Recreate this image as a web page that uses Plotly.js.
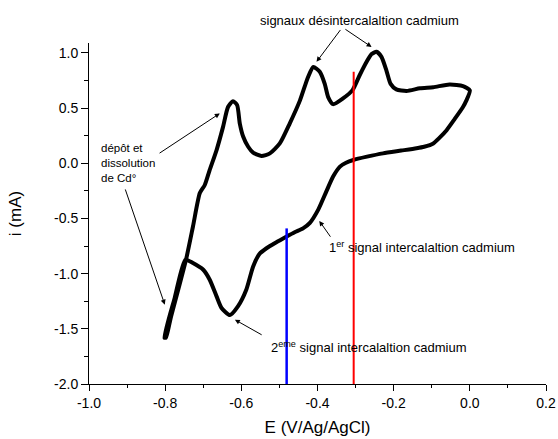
<!DOCTYPE html>
<html>
<head>
<meta charset="utf-8">
<script src="https://cdn.plot.ly/plotly-3.0.1.min.js"></script>
<style>html,body{margin:0;padding:0;background:#fff;}#chart{width:558px;height:439px;}</style>
</head>
<body>
<div id="chart"></div>
<script>
// Cyclic voltammogram: cathodic scan (0.0 V -> -0.8 V)
const cathodicE = [0.0, -0.009, -0.018, -0.04, -0.061, -0.08, -0.096, -0.12, -0.14, -0.18, -0.228, -0.27, -0.306, -0.325, -0.341, -0.359, -0.377, -0.398, -0.42, -0.438, -0.46, -0.481, -0.51, -0.534, -0.552, -0.569, -0.587, -0.609, -0.630, -0.652, -0.665, -0.683, -0.700, -0.727, -0.747, -0.775, -0.802];
const cathodicI = [0.66, 0.57, 0.51, 0.40, 0.30, 0.23, 0.18, 0.15, 0.136, 0.115, 0.09, 0.06, 0.03, 0.005, -0.03, -0.12, -0.257, -0.42, -0.54, -0.59, -0.625, -0.664, -0.72, -0.77, -0.82, -0.935, -1.146, -1.297, -1.375, -1.311, -1.206, -1.055, -0.965, -0.904, -0.874, -1.22, -1.58];
// anodic scan (-0.8 V -> 0.0 V)
const anodicE = [-0.798, -0.786, -0.745, -0.727, -0.709, -0.696, -0.683, -0.665, -0.648, -0.635, -0.622, -0.611, -0.604, -0.595, -0.582, -0.569, -0.547, -0.525, -0.499, -0.473, -0.446, -0.425, -0.411, -0.394, -0.381, -0.372, -0.359, -0.333, -0.308, -0.289, -0.271, -0.258, -0.245, -0.232, -0.219, -0.208, -0.193, -0.166, -0.131, -0.096, -0.053, -0.018, 0.0];
const anodicI = [-1.58, -1.41, -0.87, -0.573, -0.27, -0.197, -0.06, 0.12, 0.33, 0.51, 0.563, 0.527, 0.36, 0.24, 0.15, 0.096, 0.066, 0.09, 0.18, 0.36, 0.57, 0.78, 0.873, 0.83, 0.72, 0.60, 0.536, 0.588, 0.663, 0.80, 0.92, 0.99, 1.01, 0.964, 0.84, 0.72, 0.67, 0.656, 0.68, 0.69, 0.714, 0.70, 0.66];
// vertical marker lines
const redLineE = [-0.305, -0.305];
const redLineI = [-2.0, 0.83];
const blueLineE = [-0.481, -0.481];
const blueLineI = [-2.0, -0.59];
// ticks
const xTickVals = [-1.0, -0.8, -0.6, -0.4, -0.2, 0.0, 0.2];
const xTickText = ["-1.0", "-0.8", "-0.6", "-0.4", "-0.2", "0.0", "0.2"];
const yTickVals = [-2.0, -1.5, -1.0, -0.5, 0.0, 0.5, 1.0];
const yTickText = ["-2.0", "-1.5", "-1.0", "-0.5", "0.0", "0.5", "1.0"];

const cvE = cathodicE.concat(anodicE);
const cvI = cathodicI.concat(anodicI);

const FONT = "Arial, 'Liberation Sans', sans-serif";

const traces = [
  {x: cvE, y: cvI, mode: "lines", line: {color: "#000", width: 4, shape: "spline", smoothing: 0.6}, hoverinfo: "skip"},
  {x: redLineE, y: redLineI, mode: "lines", line: {color: "#ff0000", width: 2}, hoverinfo: "skip"},
  {x: blueLineE, y: blueLineI, mode: "lines", line: {color: "#0000ff", width: 2.5}, hoverinfo: "skip"}
];

const arrowBase = {showarrow: true, arrowhead: 2, arrowsize: 1, arrowwidth: 1, arrowcolor: "#000", text: "", xref: "x", yref: "y"};

const layout = {
  width: 558, height: 439,
  margin: {l: 89, r: 12, t: 43, b: 55},
  paper_bgcolor: "#fff", plot_bgcolor: "#fff",
  showlegend: false,
  font: {family: FONT, color: "#000"},
  xaxis: {
    range: [-1.0, 0.2], tickvals: xTickVals, ticktext: xTickText,
    showgrid: false, zeroline: false, showline: true, linecolor: "#000", linewidth: 1,
    ticks: "outside", ticklen: 6, tickwidth: 1, tickcolor: "#000",
    minor: {dtick: 0.1, tick0: -1.0, ticks: "outside", ticklen: 3, tickwidth: 1, tickcolor: "#000", showgrid: false},
    tickfont: {size: 14, family: FONT, color: "#000"},
    title: {text: "E (V/Ag/AgCl)", font: {size: 17, family: FONT, color: "#000"}, standoff: 11},
    automargin: false
  },
  yaxis: {
    range: [-2.0, 1.09], tickvals: yTickVals, ticktext: yTickText,
    showgrid: false, zeroline: false, showline: true, linecolor: "#000", linewidth: 1,
    ticks: "outside", ticklen: 7, tickwidth: 1, tickcolor: "#000",
    minor: {dtick: 0.25, tick0: -2.0, ticks: "outside", ticklen: 4, tickwidth: 1, tickcolor: "#000", showgrid: false},
    tickfont: {size: 14, family: FONT, color: "#000"},
    title: {text: "i (mA)", font: {size: 17, family: FONT, color: "#000"}, standoff: 28},
    automargin: false
  },
  annotations: [
    {text: "signaux désintercalaltion cadmium", x: -0.289, y: 1.067, xref: "x", yref: "paper", xanchor: "center", yanchor: "middle", showarrow: false, font: {size: 13, family: FONT, color: "#000"}},
    Object.assign({}, arrowBase, {x: -0.4026, y: 0.919, ax: 25, ay: -33.4}),
    Object.assign({}, arrowBase, {x: -0.258, y: 1.054, ax: -27.7, ay: -18.7}),
    {text: "dépôt et<br>dissolution<br>de Cd°", x: -0.9736, y: 0.0, xref: "x", yref: "y", xanchor: "left", yanchor: "middle", align: "left", showarrow: false, font: {size: 11.5, family: FONT, color: "#000"}},
    Object.assign({}, arrowBase, {x: -0.6566, y: 0.452, ax: -61.7, ay: 40.7}),
    Object.assign({}, arrowBase, {x: -0.801, y: -1.281, ax: -40, ay: -116.7}),
    {text: "1<sup>er</sup> signal intercalaltion cadmium", x: -0.3756, y: -0.757, xref: "x", yref: "y", xanchor: "left", yanchor: "middle", showarrow: false, font: {size: 13, family: FONT, color: "#000"}},
    Object.assign({}, arrowBase, {x: -0.3953, y: -0.522, ax: 12.2, ay: 17.3}),
    {text: "2<sup>eme</sup> signal intercalaltion cadmium", x: -0.5266, y: -1.661, xref: "x", yref: "y", xanchor: "left", yanchor: "middle", showarrow: false, font: {size: 13, family: FONT, color: "#000"}},
    Object.assign({}, arrowBase, {x: -0.617, y: -1.417, ax: 28.3, ay: 16})
  ]
};

Plotly.newPlot("chart", traces, layout, {staticPlot: true, displayModeBar: false});
</script>
</body>
</html>
